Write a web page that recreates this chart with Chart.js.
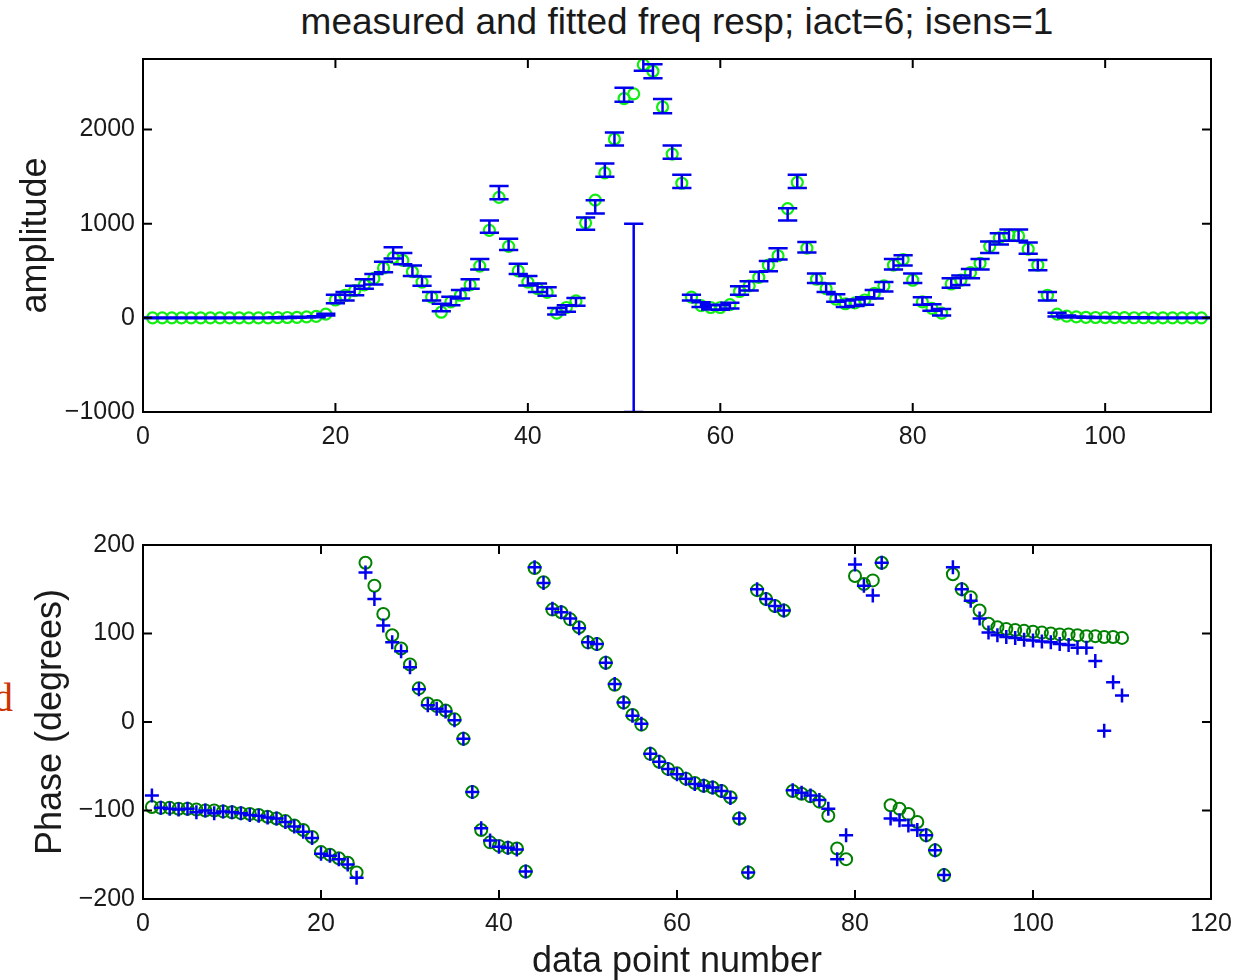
<!DOCTYPE html>
<html>
<head>
<meta charset="utf-8">
<title>measured and fitted freq resp</title>
<script src="https://cdn.jsdelivr.net/npm/chart.js@4.4.1/dist/chart.umd.min.js"></script>
<style>
  body { margin: 0; background: #fff; width: 1246px; height: 980px; position: relative; overflow: hidden;
         font-family: "Liberation Sans", Arial, sans-serif; }
  canvas { position: absolute; left: 0; }
  #ampChart { top: 0; }
  #phaseChart { top: 470px; }
  #title { position: absolute; left: 143px; width: 1068px; top: 1px; text-align: center;
           font-size: 37px; line-height: 42px; color: #1a1a1a; white-space: nowrap; }
  #stray { position: absolute; left: -7px; top: 678px; font-family: "Liberation Serif", serif;
           font-size: 40px; line-height: 40px; color: #cc3300; }
</style>
</head>
<body>
<div id="title">measured and fitted freq resp; iact=6; isens=1</div>
<div id="stray">d</div>
<canvas id="ampChart" width="1246" height="470"></canvas>
<canvas id="phaseChart" width="1246" height="510"></canvas>
<script>
// x values: data point number 1..110
const pointNumber = Array.from({ length: 110 }, (_, i) => i + 1);

// amplitude, measured (blue error bars)
const ampMeasured = [
  0, 0, 0, 0, 0, 0, 0, 0, 0, 0,
  0, 0, 0, 2, 4, 6, 8, 12, 35, 200,
  230, 290, 360, 410, 540, 690, 630, 500, 390, 230,
  110, 180, 250, 360, 570, 970, 1330, 780, 520, 395,
  320, 280, 70, 100, 170, 1000, 1180, 1570, 1900, 2370,
  0, 2700, 2620, 2250, 1760, 1450, 215, 140, 115, 110,
  130, 290, 340, 440, 550, 680, 1100, 1450, 750, 420,
  320, 210, 150, 160, 180, 250, 330, 570, 610, 420,
  180, 110, 60, 370, 400, 470, 570, 750, 840, 880,
  880, 740, 560, 230, 35, 15, 10, 6, 4, 3,
  2, 2, 1, 1, 0, 0, 0, 0, 0, 0
];

// half height of each error bar
const ampError = [
  5, 5, 5, 5, 5, 5, 5, 5, 5, 5,
  5, 5, 5, 5, 5, 5, 5, 5, 10, 45,
  45, 50, 50, 55, 55, 60, 60, 55, 50, 45,
  40, 45, 45, 50, 55, 65, 70, 60, 55, 50,
  45, 45, 35, 35, 40, 65, 70, 70, 70, 75,
  1000, 75, 75, 75, 70, 70, 30, 25, 25, 25,
  30, 45, 50, 50, 55, 60, 65, 70, 55, 50,
  45, 40, 35, 35, 40, 45, 50, 55, 55, 50,
  40, 35, 35, 50, 50, 50, 55, 60, 60, 60,
  60, 60, 55, 45, 20, 10, 5, 5, 5, 5,
  5, 5, 5, 5, 5, 5, 5, 5, 5, 5
];

// amplitude, fitted (green circles)
const ampFitted = [
  0, 0, 0, 0, 0, 0, 0, 0, 0, 0,
  0, 0, 0, 2, 4, 6, 10, 15, 40, 190,
  240, 290, 350, 420, 530, 640, 610, 490, 380, 220,
  60, 170, 240, 350, 550, 930, 1280, 760, 500, 380,
  310, 270, 50, 110, 180, 1010, 1250, 1540, 1900, 2330,
  2380, 2690, 2620, 2240, 1740, 1430, 220, 130, 110, 110,
  140, 280, 340, 430, 560, 660, 1160, 1440, 740, 410,
  310, 200, 150, 160, 190, 260, 340, 560, 620, 400,
  170, 100, 50, 360, 400, 480, 580, 760, 850, 880,
  870, 730, 560, 240, 40, 18, 10, 6, 4, 3,
  2, 2, 1, 1, 0, 0, 0, 0, 0, 0
];

// phase in degrees, measured (blue +)
const phaseMeasured = [
  -83, -97, -98, -99, -98, -102, -100, -103, -101, -102,
  -103, -105, -106, -108, -109, -113, -118, -124, -131, -149,
  -151, -155, -161, -176, 169, 139, 109, 90, 80, 62,
  37, 19, 15, 12, 2, -19, -79, -120, -134, -141,
  -142, -144, -169, 175, 157, 128, 124, 117, 106, 90,
  88, 67, 43, 22, 7, -2, -36, -45, -53, -59,
  -64, -70, -72, -74, -78, -86, -109, -170, 150, 139,
  131, 126, -77, -80, -83, -88, -98, -155, -128, 178,
  154, 143, 180, -109, -111, -117, -122, -128, -145, -173,
  175, 150, 137, 117, 101, 98, 96, 95, 93, 92,
  91, 90, 88, 87, 84, 84, 69, -10, 45, 30
];

// phase in degrees, fitted (green o)
const phaseFitted = [
  -96, -97, -97, -98, -98, -99, -100, -100, -101, -102,
  -103, -104, -105, -107, -109, -112, -117, -122, -130, -147,
  -150, -154, -159, -170, 180, 154, 122, 98, 83, 65,
  38, 21, 18, 13, 3, -19, -79, -122, -136, -140,
  -142, -143, -169, 174, 158, 127, 124, 116, 107, 90,
  88, 67, 42, 22, 8, -3, -36, -45, -53, -58,
  -64, -69, -72, -74, -78, -85, -109, -170, 149, 139,
  131, 126, -78, -81, -84, -90, -106, -143, -155, 165,
  156, 160, 180, -94, -98, -104, -113, -128, -145, -173,
  167, 150, 141, 126, 111, 107, 105, 104, 103, 102,
  101, 100, 99, 99, 98, 97, 97, 96, 96, 95
];

const ampTicks = [-1000, 0, 1000, 2000];
const phaseTicks = [-200, -100, 0, 100, 200];
const ampPointTicks = [0, 20, 40, 60, 80, 100];
const phasePointTicks = [0, 20, 40, 60, 80, 100, 120];

const BLUE = "#0000ee";
const TEXT = "#1a1a1a";

Chart.defaults.font.family = '"Liberation Sans", Arial, sans-serif';
Chart.defaults.color = TEXT;

function fmt(v) {
  return v < 0 ? "\u2212" + Math.abs(v) : String(v);
}

// box round the plot with inward tick marks on all four sides (matlab look)
const framePlugin = {
  id: "frame",
  afterDraw(chart) {
    const { ctx, chartArea: a, scales } = chart;
    const len = 9;
    ctx.save();
    ctx.strokeStyle = "#000";
    ctx.lineWidth = 2;
    ctx.strokeRect(a.left, a.top, a.right - a.left, a.bottom - a.top);
    ctx.beginPath();
    scales.x.ticks.forEach(t => {
      const px = scales.x.getPixelForValue(t.value);
      ctx.moveTo(px, a.bottom); ctx.lineTo(px, a.bottom - len);
      ctx.moveTo(px, a.top); ctx.lineTo(px, a.top + len);
    });
    scales.y.ticks.forEach(t => {
      const py = scales.y.getPixelForValue(t.value);
      ctx.moveTo(a.left, py); ctx.lineTo(a.left + len, py);
      ctx.moveTo(a.right, py); ctx.lineTo(a.right - len, py);
    });
    ctx.stroke();
    ctx.restore();
  }
};

// blue error bars for the measured amplitude
const errorBarPlugin = {
  id: "errorBars",
  afterDatasetsDraw(chart) {
    const { ctx, chartArea: a, scales: { x, y } } = chart;
    ctx.save();
    ctx.beginPath();
    ctx.rect(a.left, a.top, a.right - a.left, a.bottom - a.top);
    ctx.clip();
    ctx.strokeStyle = BLUE;
    ctx.lineWidth = 2.5;
    ctx.beginPath();
    ampMeasured.forEach((v, i) => {
      const px = x.getPixelForValue(pointNumber[i]);
      const tee = x.getPixelForValue(pointNumber[i] + 1) - px;
      const top = y.getPixelForValue(v + ampError[i]);
      const bot = y.getPixelForValue(v - ampError[i]);
      ctx.moveTo(px, top); ctx.lineTo(px, bot);
      ctx.moveTo(px - tee, top); ctx.lineTo(px + tee, top);
      ctx.moveTo(px - tee, bot); ctx.lineTo(px + tee, bot);
    });
    ctx.stroke();
    ctx.restore();
  }
};

function xy(values) {
  return values.map((v, i) => ({ x: pointNumber[i], y: v }));
}

function axes(xMax, xTicks, yMin, yMax, yTicks, yTitle, yTitlePad, xTitle, xHeight) {
  return {
    x: {
      type: "linear", min: 0, max: xMax,
      grid: { display: false, drawTicks: false },
      border: { display: false },
      afterBuildTicks: s => { s.ticks = xTicks.map(v => ({ value: v })); },
      afterFit: s => { s.height = xHeight; },
      ticks: { font: { size: 25 }, padding: 10, maxRotation: 0, callback: fmt },
      title: xTitle
        ? { display: true, text: xTitle, font: { size: 36 }, color: TEXT, padding: { top: 0, bottom: -4 } }
        : { display: false }
    },
    y: {
      type: "linear", min: yMin, max: yMax,
      grid: { display: false, drawTicks: false },
      border: { display: false },
      afterBuildTicks: s => { s.ticks = yTicks.map(v => ({ value: v })); },
      afterFit: s => { s.width = 143; },
      ticks: { font: { size: 25 }, padding: 8, callback: fmt },
      title: { display: true, text: yTitle, font: { size: 36 }, color: TEXT, padding: { top: yTitlePad, bottom: 0 } }
    }
  };
}

new Chart(document.getElementById("ampChart"), {
  type: "scatter",
  data: {
    datasets: [
      { label: "measured", data: xy(ampMeasured), pointRadius: 0, showLine: false },
      { label: "fitted", data: xy(ampFitted), pointStyle: "circle", pointRadius: 5.5,
        borderColor: "#11ee11", backgroundColor: "rgba(0,0,0,0)", borderWidth: 2.2 }
    ]
  },
  options: {
    responsive: false, animation: false, events: [],
    layout: { padding: { top: 59, right: 35, left: 0, bottom: 0 } },
    plugins: { legend: { display: false }, tooltip: { enabled: false } },
    scales: axes(111, ampPointTicks, -1000, 2750, ampTicks, "amplitude", 14, null, 58)
  },
  plugins: [errorBarPlugin, framePlugin]
});

new Chart(document.getElementById("phaseChart"), {
  type: "scatter",
  data: {
    datasets: [
      { label: "measured", data: xy(phaseMeasured), pointStyle: "cross", pointRadius: 7,
        borderColor: BLUE, backgroundColor: BLUE, borderWidth: 2.5 },
      { label: "fitted", data: xy(phaseFitted), pointStyle: "circle", pointRadius: 6,
        borderColor: "#008000", backgroundColor: "rgba(0,0,0,0)", borderWidth: 2 }
    ]
  },
  options: {
    responsive: false, animation: false, events: [],
    layout: { padding: { top: 75, right: 35, left: 0, bottom: 0 } },
    plugins: { legend: { display: false }, tooltip: { enabled: false } },
    scales: axes(120, phasePointTicks, -200, 200, phaseTicks, "Phase (degrees)", 29, "data point number", 81)
  },
  plugins: [framePlugin]
});
</script>
</body>
</html>
